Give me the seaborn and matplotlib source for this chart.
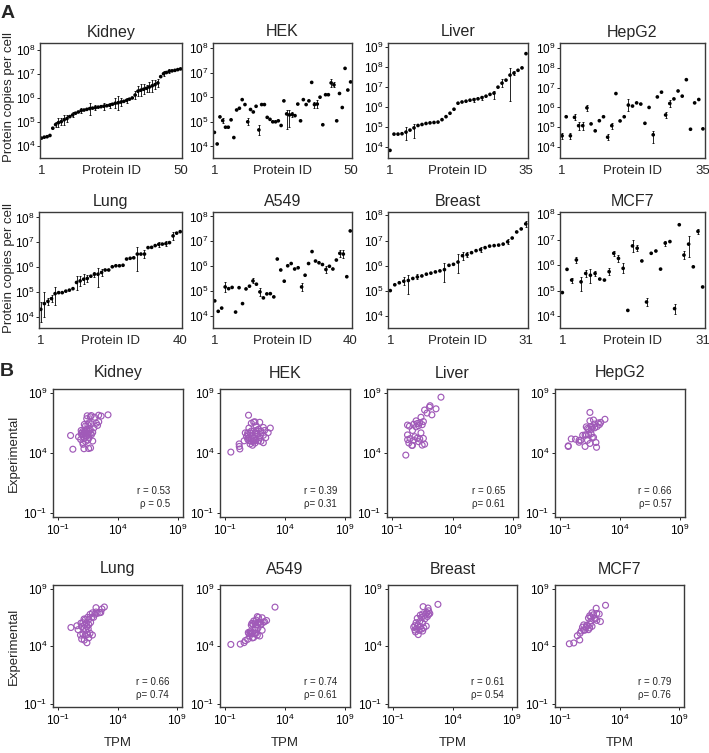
import numpy as np
import pandas as pd
import matplotlib
matplotlib.use("Agg")
import matplotlib.pyplot as plt
from matplotlib.ticker import NullLocator
import seaborn as sns

sns.set_style("white")
plt.rcParams['font.family'] = ['Liberation Sans', 'DejaVu Sans']
plt.rcParams['mathtext.fontset'] = 'custom'
plt.rcParams['mathtext.rm'] = 'Liberation Sans'
plt.rcParams['mathtext.it'] = 'Liberation Sans:italic'
plt.rcParams['mathtext.bf'] = 'Liberation Sans:bold'

# ---------------- Panel A data (log10 protein copies per cell) ----------------
tissues_a = ["Kidney", "HEK", "Liver", "HepG2", "Lung", "A549", "Breast", "MCF7"]

kidney_log = [4.34, 4.38, 4.40, 4.45, 4.75, 4.90, 4.98, 5.02, 5.10, 5.15,
              5.23, 5.30, 5.37, 5.42, 5.48, 5.50, 5.53, 5.56, 5.58, 5.60,
              5.62, 5.64, 5.66, 5.68, 5.70, 5.74, 5.78, 5.80, 5.83, 5.86,
              5.90, 5.95, 6.00, 6.12, 6.28, 6.32, 6.36, 6.40, 6.45, 6.50,
              6.55, 6.62, 6.88, 7.00, 7.05, 7.10, 7.12, 7.14, 7.17, 7.20]
hek_log = [4.57, 4.10, 5.20, 5.05, 4.78, 4.78, 5.08, 4.36, 5.48, 5.55,
           5.90, 5.70, 5.00, 5.50, 5.40, 5.63, 4.67, 5.70, 5.70, 5.18,
           5.10, 5.00, 5.00, 5.04, 4.85, 5.85, 5.32, 5.28, 5.30, 5.25,
           5.72, 5.04, 5.90, 5.70, 5.85, 6.60, 5.70, 5.72, 6.00, 4.88,
           6.10, 6.10, 6.58, 6.50, 5.04, 6.15, 5.58, 7.17, 6.29, 6.62]
liver_log = [3.85, 4.66, 4.66, 4.68, 4.76, 4.86, 4.97, 5.09, 5.14, 5.19,
             5.22, 5.24, 5.26, 5.38, 5.53, 5.70, 5.90, 6.20, 6.26, 6.30,
             6.35, 6.38, 6.42, 6.48, 6.55, 6.64, 6.70, 7.00, 7.20, 7.35,
             7.60, 7.70, 7.84, 7.96, 8.67]
hepg2_log = [4.57, 5.53, 4.57, 5.50, 5.08, 5.08, 5.98, 5.17, 4.82, 5.33,
             5.53, 4.50, 5.08, 6.70, 5.32, 5.53, 6.12, 6.07, 6.23, 6.17,
             5.20, 6.00, 4.62, 6.53, 6.77, 5.62, 6.20, 6.43, 6.83, 6.57,
             7.40, 4.90, 6.23, 6.40, 4.92]
lung_log = [4.31, 4.54, 4.63, 4.74, 4.94, 4.98, 4.98, 5.04, 5.08, 5.14,
            5.39, 5.45, 5.52, 5.55, 5.64, 5.72, 5.72, 5.79, 5.89, 5.89,
            6.02, 6.06, 6.06, 6.08, 6.33, 6.36, 6.38, 6.53, 6.53, 6.53,
            6.79, 6.80, 6.87, 6.92, 6.93, 6.95, 6.99, 7.26, 7.37, 7.43]
a549_log = [4.61, 4.19, 4.32, 5.17, 5.10, 5.15, 4.16, 5.14, 4.50, 5.09,
            5.20, 5.41, 5.28, 4.97, 4.73, 4.89, 4.90, 4.77, 6.29, 5.85,
            5.40, 6.02, 6.11, 5.89, 5.94, 5.17, 5.64, 6.11, 6.59, 6.21,
            6.14, 6.07, 5.87, 6.00, 5.89, 6.25, 6.52, 6.49, 5.58, 7.42]
breast_log = [5.02, 5.25, 5.33, 5.39, 5.42, 5.50, 5.56, 5.60, 5.67, 5.71,
              5.76, 5.80, 5.85, 6.02, 6.06, 6.15, 6.40, 6.44, 6.52, 6.60,
              6.64, 6.72, 6.78, 6.80, 6.82, 6.86, 6.95, 7.10, 7.34, 7.46, 7.66]
mcf7_log = [4.92, 5.83, 5.41, 6.20, 5.34, 5.67, 5.60, 5.67, 5.45, 5.41,
            5.74, 6.46, 6.26, 5.87, 4.22, 6.75, 6.66, 6.16, 4.55, 6.46,
            6.55, 5.84, 6.86, 6.92, 4.29, 7.58, 6.39, 6.82, 5.93, 7.32, 5.14]

# error bars (protein index -> half-length in log10 units, or (down, up))
kidney_err = {6: .12, 7: .2, 8: .15, 9: .2, 10: .15, 12: .1, 15: .1, 18: .25,
              20: .1, 23: .15, 25: .1, 27: .2, 28: .3, 29: .15, 31: .1, 34: .15,
              35: .2, 36: .25, 37: .2, 38: .15, 39: .2, 40: .25, 41: .2, 42: .15,
              44: .1, 46: .08}
hek_err = {4: .1, 13: .15, 17: .2, 27: (.6, .15), 28: (.5, .2), 29: .1,
           37: .12, 38: .15, 43: .15, 44: .1}
liver_err = {5: (.41, .23), 7: (.5, .21), 22: .1, 24: .1, 27: (.3, .1),
             29: .2, 31: (1.3, .33), 32: .1}
hepg2_err = {1: .15, 3: .15, 4: .15, 5: .2, 6: .2, 7: .15, 12: .15, 13: .15,
             17: .3, 23: (.4, .2), 26: .15, 27: .2}
lung_err = {1: (.5, .3), 2: (.55, .45), 3: .15, 4: .15, 5: (.45, .25),
            11: (.3, .25), 12: .2, 13: .2, 14: .15, 16: .1, 17: (.5, .25),
            18: .15, 28: (.7, .3), 30: .15, 34: .1, 36: .1, 38: .15}
a549_err = {4: .2, 12: .1, 14: .15, 26: .15, 33: .15, 37: .15, 38: .15}
breast_err = {4: .15, 5: (.55, .2), 7: .1, 13: (.5, .25), 16: (.45, .3),
              17: .15, 18: .1, 21: .1, 27: .1, 31: .12}
mcf7_err = {3: .1, 4: .12, 5: (.35, .2), 6: .12, 7: (.3, .25), 8: .1, 11: .15,
            12: .1, 13: .15, 14: .2, 16: .25, 17: .12, 19: .15, 23: .1, 25: .2,
            27: .15, 28: (.5, .3), 30: .1}

# ---------------- Panel B data (log10 TPM, log10 experimental) ----------------
kidney_tpm = [0.25, 1.17, 1.56, 1.72, 1.10, 1.08, 1.30, 1.90, 1.50, 0.90,
              1.20, 1.60, 0.72, 1.40, 0.06, 1.30, 1.00, 1.80, 1.50, 1.10,
              1.25, 1.70, 0.95, 1.45, 1.20, 1.90, 1.35, 1.05, 1.60, 1.25,
              0.94, 1.70, 1.40, 2.00, 1.30, 2.30, 1.50, 1.20, 1.80, 2.20,
              1.60, 2.40, 1.40, 2.06, 1.70, 2.60, 1.44, 1.78, 2.39, 3.17]
hek_tpm = [0.20, -0.50, 1.20, 1.00, 0.19, 1.10, 1.50, 0.25, 1.30, 0.90,
           1.60, 1.10, 1.40, 2.20, 0.80, 1.70, 1.30, 2.00, 0.70, 0.90,
           1.60, 1.20, 2.00, 0.60, 1.50, 1.20, 1.90, 1.00, 2.40, 1.40,
           1.50, 1.80, 2.30, 1.60, 2.00, 1.40, 0.90, 2.60, 1.80, 2.20,
           1.00, 2.78, 1.90, 1.20, 1.30, 2.20, 1.70, 0.97, 1.60, 1.50]
liver_tpm = [0.15, 0.70, 0.65, 1.50, 1.70, 0.40, 1.20, 0.80, 0.30, 1.30,
             0.50, 1.60, 1.10, 0.90, 0.29, 1.40, 0.70, 1.00, 0.45, 1.20,
             0.29, 1.50, 0.80, 1.10, 1.30, 1.60, 1.00, 1.40, 2.30, 1.90,
             1.70, 2.64, 2.10, 2.15, 3.05]
hepg2_tpm = [-0.30, 1.40, 1.10, 0.90, 0.60, 0.75, 1.60, 0.30, 1.50, 1.80,
             1.20, 2.05, 1.30, 1.50, 1.70, 1.10, 1.90, 1.30, 2.10, 1.70,
             -0.05, 1.40, -0.30, 2.20, 1.80, 1.60, 1.20, 1.90, 2.75, 2.40,
             1.50, 2.00, 1.60, 2.30, 0.60]
lung_tpm = [1.44, 1.22, 1.00, 1.60, 1.30, 1.90, 0.90, 1.50, 1.10, 1.70,
            1.35, 0.70, 1.55, 1.20, 0.10, 1.00, 1.45, 0.60, 1.25, 1.60,
            0.94, 1.40, 1.10, 1.75, 1.30, 1.60, 1.20, 1.50, 1.85, 2.00,
            1.70, 2.10, 2.30, 1.90, 2.50, 2.60, 2.20, 2.70, 2.20, 2.90]
a549_tpm = [0.90, 0.28, 0.60, 1.30, 1.00, 1.60, -0.50, 1.20, 0.70, 1.45,
            0.95, 1.50, 1.10, 1.70, 1.30, 1.05, 1.90, 1.40, 1.60, 1.20,
            2.10, 1.50, 1.80, 1.35, 2.00, 1.15, 1.55, 2.20, 1.70, 1.40,
            2.30, 1.90, 1.60, 1.25, 2.00, 2.47, 1.80, 2.10, 1.75, 3.17]
breast_tpm = [1.13, 0.90, 1.50, 1.20, 0.85, 1.40, 1.00, 1.60, 0.75, 1.30,
              1.80, 0.85, 1.10, 1.50, 0.95, 1.25, 1.70, 1.05, 1.40, 1.90,
              1.60, 1.30, 2.00, 1.75, 1.50, 2.10, 1.85, 2.00, 1.95, 1.54, 2.78]
mcf7_tpm = [0.47, 1.30, 1.00, 1.60, 0.80, 1.20, 1.50, 0.90, 1.40, 1.10,
            1.70, 1.40, 2.10, 1.00, -0.20, 1.80, 1.50, 2.40, 0.67, 1.90,
            1.60, 1.25, 2.10, 1.70, 0.17, 2.83, 1.95, 2.30, 1.55, 2.05, 0.70]

pearson_r = ["0.53", "0.39", "0.65", "0.66", "0.66", "0.74", "0.61", "0.79"]
spearman_rho = ["0.5", "0.31", "0.61", "0.57", "0.74", "0.61", "0.54", "0.76"]

a_logs = [kidney_log, hek_log, liver_log, hepg2_log, lung_log, a549_log, breast_log, mcf7_log]
a_errs = [kidney_err, hek_err, liver_err, hepg2_err, lung_err, a549_err, breast_err, mcf7_err]
b_tpm = [kidney_tpm, hek_tpm, liver_tpm, hepg2_tpm, lung_tpm, a549_tpm, breast_tpm, mcf7_tpm]

# ---------------- layout ----------------
W, H = 709, 753
fig = plt.figure(figsize=(W / 100, H / 100), dpi=100)
PURPLE = "#a05ab8"
FRAME = "#3a3a3a"


def add_ax(x0, y0, x1, y1):
    return fig.add_axes([x0 / W, 1 - y1 / H, (x1 - x0) / W, (y1 - y0) / H])


def style_frame(ax):
    for sp in ax.spines.values():
        sp.set_visible(True)
        sp.set_color(FRAME)
        sp.set_linewidth(1.0)


def sup(k):
    return r"$\mathregular{10^{%d}}$" % k


a_boxes = [(40, 43, 182, 158), (213, 43, 352, 158), (388, 43, 528, 158), (560, 43, 705, 158),
           (39, 212, 182, 328), (213, 212, 352, 328), (388, 212, 528, 328), (560, 212, 705, 328)]
a_ylims = [(3.52, 8.27), (3.53, 8.2), (3.47, 9.2), (3.45, 9.25),
           (3.56, 8.22), (3.52, 8.18), (3.54, 8.13), (3.53, 8.08)]

for k in range(8):
    box = a_boxes[k]
    ax = add_ax(*box)
    vals = np.array(a_logs[k])
    n = len(vals)
    ids = np.arange(1, n + 1)
    lo = np.zeros(n)
    hi = np.zeros(n)
    for idx, e in a_errs[k].items():
        if isinstance(e, tuple):
            lo[idx - 1], hi[idx - 1] = e
        else:
            lo[idx - 1] = hi[idx - 1] = e
    y = 10.0 ** vals
    has = (lo > 0) | (hi > 0)
    ax.errorbar(ids[has], y[has],
                yerr=[y[has] - 10.0 ** (vals[has] - lo[has]), 10.0 ** (vals[has] + hi[has]) - y[has]],
                fmt="none", ecolor="black", elinewidth=0.6, capsize=1.0, capthick=0.6)
    df = pd.DataFrame({"Protein ID": ids, "copies": y})
    sns.scatterplot(data=df, x="Protein ID", y="copies", ax=ax, color="black",
                    s=7, marker="o", edgecolor="none", legend=False)
    ax.set_yscale("log")
    lo_lim, hi_lim = a_ylims[k]
    ax.set_ylim(10 ** lo_lim, 10 ** hi_lim)
    ax.set_xlim(0.5, n + 0.5)
    ticks = list(range(4, int(np.floor(hi_lim)) + 1))
    ax.set_yticks([10.0 ** t for t in ticks])
    ax.set_yticklabels([sup(t) for t in ticks])
    ax.yaxis.set_minor_locator(NullLocator())
    ax.set_xticks([1, n])
    ax.set_xticklabels(["1", str(n)])
    ax.tick_params(axis="y", left=True, direction="out", length=2.5, width=0.6,
                   pad=1, labelsize=8.5, colors="black")
    ax.tick_params(axis="x", bottom=True, length=0, pad=5, labelsize=9.5)
    ax.set_xlabel("")
    ax.set_ylabel("")
    style_frame(ax)
    hpx = box[3] - box[1]
    ax.text(0.5, -13 / hpx, "Protein ID", transform=ax.transAxes,
            ha="center", va="center", fontsize=9.5)
    ax.text(0.5, 1 + 11 / hpx, tissues_a[k], transform=ax.transAxes,
            ha="center", va="center", fontsize=11.5)

fig.text(9 / W, 1 - 97 / H, "Protein copies per cell", rotation=90,
         ha="center", va="center", fontsize=9.5)
fig.text(9 / W, 1 - 268 / H, "Protein copies per cell", rotation=90,
         ha="center", va="center", fontsize=9.5)
fig.text(8 / W, 1 - 14 / H, "A", ha="center", va="center", fontsize=14, fontweight="bold")
fig.text(7 / W, 1 - 372 / H, "B", ha="center", va="center", fontsize=14, fontweight="bold")

b_boxes = [(53, 389, 183, 517), (220, 389, 350, 517), (387, 389, 518, 517), (555, 389, 685, 517),
           (53, 585, 182, 707), (220, 585, 350, 707), (388, 585, 517, 707), (555, 585, 684, 707)]

for k in range(8):
    box = b_boxes[k]
    ax = add_ax(*box)
    df = pd.DataFrame({"TPM": 10.0 ** np.array(b_tpm[k]),
                       "Experimental": 10.0 ** np.array(a_logs[k])})
    sns.scatterplot(data=df, x="TPM", y="Experimental", ax=ax, s=18,
                    marker="o", color=PURPLE, legend=False)
    coll = ax.collections[-1]
    coll.set_facecolor("none")
    coll.set_edgecolor(PURPLE)
    coll.set_linewidth(0.85)
    ax.set_xscale("log")
    ax.set_yscale("log")
    ax.set_xlim(10 ** -1.4, 10 ** 9.4)
    ax.set_ylim(10 ** -1.3, 10 ** 9.35)
    ax.set_xticks([1e-1, 1e4, 1e9])
    ax.set_xticklabels([sup(-1), sup(4), sup(9)])
    ax.set_yticks([1e-1, 1e4, 1e9])
    ax.set_yticklabels([sup(-1), sup(4), sup(9)])
    ax.xaxis.set_minor_locator(NullLocator())
    ax.yaxis.set_minor_locator(NullLocator())
    ax.tick_params(axis="both", left=True, bottom=True, direction="out", length=2.5,
                   width=0.6, pad=1.5, labelsize=8.5, colors="black")
    ax.set_xlabel("")
    ax.set_ylabel("")
    style_frame(ax)
    hpx = box[3] - box[1]
    ax.text(0.5, 1 + 16 / hpx, tissues_a[k], transform=ax.transAxes,
            ha="center", va="center", fontsize=11.5)
    ax.text(0.9, 0.205, "r = " + pearson_r[k], transform=ax.transAxes,
            ha="right", va="center", fontsize=7)
    rho_txt = ("\u03c1 = " if k == 0 else "\u03c1= ") + spearman_rho[k]
    ax.text(0.9, 0.1, rho_txt, transform=ax.transAxes,
            ha="right", va="center", fontsize=7)
    if k % 4 == 0:
        ax.text(-0.3, 0.5, "Experimental", transform=ax.transAxes, rotation=90,
                ha="center", va="center", fontsize=9.5)
    if k >= 4:
        ax.text(0.5, -(743 - box[3]) / hpx, "TPM", transform=ax.transAxes,
                ha="center", va="center", fontsize=9.5)

fig.savefig("out.png", dpi=100)
